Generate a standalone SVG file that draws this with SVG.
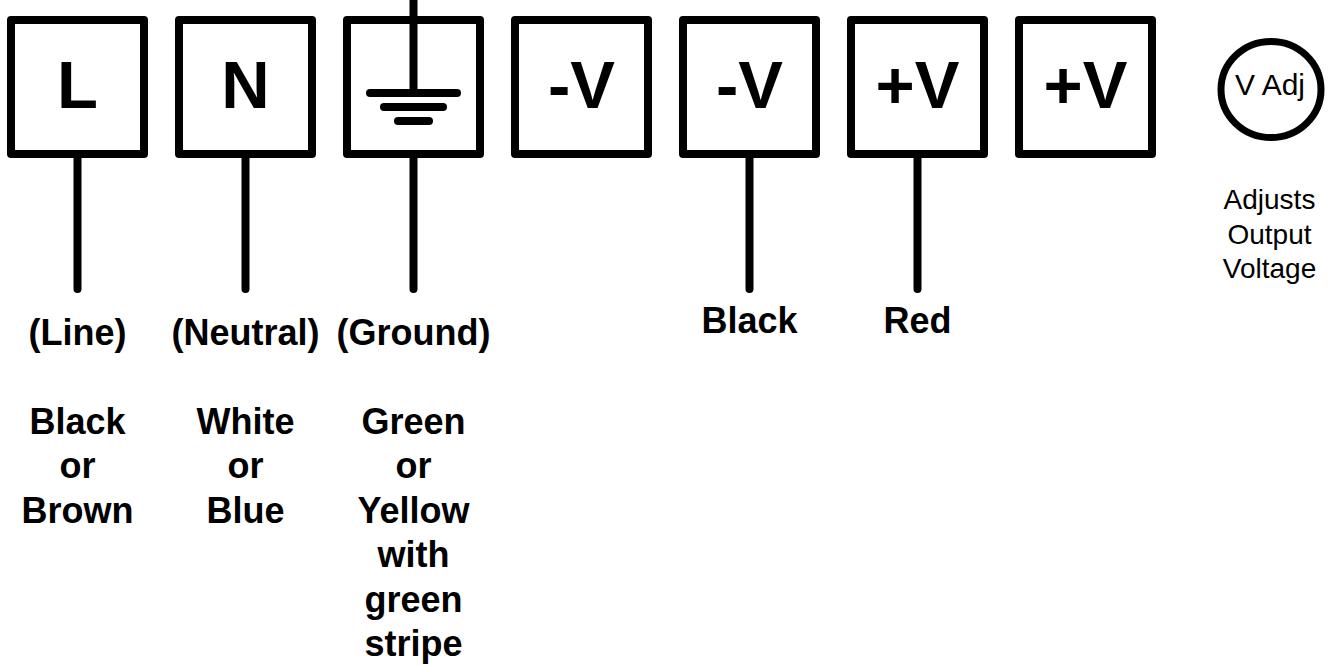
<svg xmlns="http://www.w3.org/2000/svg" width="1331" height="666" viewBox="0 0 1331 666">
<style>
.box{fill:#fff;stroke:#000;stroke-width:8;stroke-linejoin:round}
.wire{stroke:#000;stroke-width:8;stroke-linecap:round;fill:none}
.big{font-family:"Liberation Sans",Arial,sans-serif;font-weight:bold;font-size:67px;text-anchor:middle;fill:#000}
.lbl{font-family:"Liberation Sans",Arial,sans-serif;font-weight:bold;font-size:36px;text-anchor:middle;fill:#000}
.reg{font-family:"Liberation Sans",Arial,sans-serif;font-size:28px;text-anchor:middle;fill:#000}
</style>
<rect width="1331" height="666" fill="#fff"/>
<g id="connectors">
<line class="wire" x1="77.5" y1="158" x2="77.5" y2="289"/>
<line class="wire" x1="245.5" y1="158" x2="245.5" y2="289"/>
<line class="wire" x1="413.5" y1="158" x2="413.5" y2="289"/>
<line class="wire" x1="749.5" y1="158" x2="749.5" y2="289"/>
<line class="wire" x1="917.5" y1="158" x2="917.5" y2="289"/>
</g>
<g id="node-L">
<rect class="box" x="11" y="20" width="133" height="134"/>
<text class="big" x="77.5" y="108">L</text>
</g>
<g id="node-N">
<rect class="box" x="179" y="20" width="133" height="134"/>
<text class="big" x="245.5" y="108">N</text>
</g>
<g id="node-G">
<rect class="box" x="347" y="20" width="133" height="134"/>
<line class="wire" x1="413.5" y1="-4" x2="413.5" y2="93" style="stroke-linecap:butt"/>
<line class="wire" x1="370" y1="93" x2="457" y2="93"/>
<line class="wire" x1="384" y1="107" x2="443" y2="107"/>
<line class="wire" x1="398" y1="121" x2="429" y2="121"/>
</g>
<g id="node-V1">
<rect class="box" x="515" y="20" width="133" height="134"/>
<text class="big" x="581.5" y="108">-V</text>
</g>
<g id="node-V2">
<rect class="box" x="683" y="20" width="133" height="134"/>
<text class="big" x="749.5" y="108">-V</text>
</g>
<g id="node-V3">
<rect class="box" x="851" y="20" width="133" height="134"/>
<text class="big" x="917.5" y="108">+V</text>
</g>
<g id="node-V4">
<rect class="box" x="1019" y="20" width="133" height="134"/>
<text class="big" x="1085.5" y="108">+V</text>
</g>
<g id="node-Vadj">
<ellipse cx="1271" cy="89.5" rx="50" ry="48" fill="#fff" stroke="#000" stroke-width="7"/>
<text x="1270" y="95" style="font-family:'Liberation Sans',Arial,sans-serif;font-size:30px;text-anchor:middle">V Adj</text>
<text class="reg" x="1269.5" y="209">Adjusts</text>
<text class="reg" x="1269.5" y="243.5">Output</text>
<text class="reg" x="1269.5" y="278">Voltage</text>
</g>
<g id="labels-L">
<text class="lbl" x="77.5" y="345">(Line)</text>
<text class="lbl" x="77.5" y="433.5">Black</text>
<text class="lbl" x="77.5" y="478">or</text>
<text class="lbl" x="77.5" y="522.5">Brown</text>
</g>
<g id="labels-N">
<text class="lbl" x="245.5" y="345">(Neutral)</text>
<text class="lbl" x="245.5" y="433.5">White</text>
<text class="lbl" x="245.5" y="478">or</text>
<text class="lbl" x="245.5" y="522.5">Blue</text>
</g>
<g id="labels-G">
<text class="lbl" x="413.5" y="345">(Ground)</text>
<text class="lbl" x="413.5" y="433.5">Green</text>
<text class="lbl" x="413.5" y="478">or</text>
<text class="lbl" x="413.5" y="522.5">Yellow</text>
<text class="lbl" x="413.5" y="567">with</text>
<text class="lbl" x="413.5" y="611.5">green</text>
<text class="lbl" x="413.5" y="656">stripe</text>
</g>
<g id="labels-out">
<text class="lbl" x="749.5" y="333">Black</text>
<text class="lbl" x="917.5" y="333">Red</text>
</g>
</svg>
